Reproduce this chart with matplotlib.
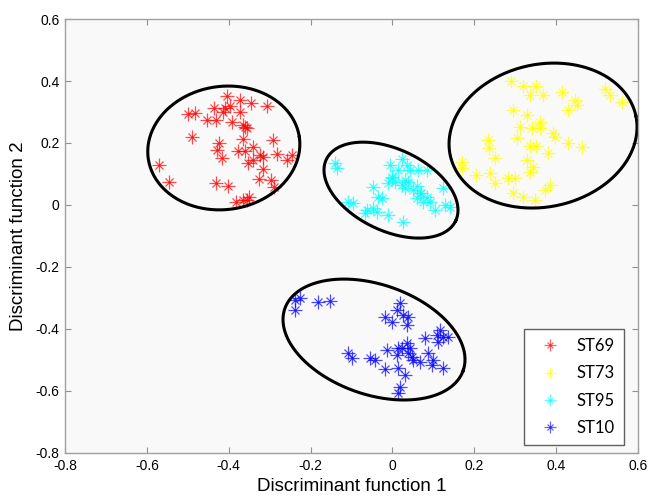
import numpy as np
import matplotlib
matplotlib.use("Agg")
import matplotlib.pyplot as plt
from matplotlib.legend_handler import HandlerTuple

# ---- data ----
st69_x = [-0.403, -0.372, -0.346, -0.307, -0.436, -0.409, -0.397, -0.415, -0.372, -0.499,
          -0.482, -0.454, -0.431, -0.393, -0.360, -0.356, -0.365, -0.490, -0.364, -0.291,
          -0.423, -0.429, -0.377, -0.360, -0.340, -0.417, -0.324, -0.316, -0.283, -0.246,
          -0.258, -0.352, -0.340, -0.570, -0.317, -0.545, -0.431, -0.401, -0.326, -0.297,
          -0.289, -0.381, -0.364, -0.350, -0.356]
st69_y = [0.352, 0.339, 0.328, 0.319, 0.312, 0.312, 0.319, 0.301, 0.299, 0.294,
          0.296, 0.274, 0.274, 0.269, 0.253, 0.247, 0.258, 0.218, 0.212, 0.210,
          0.199, 0.177, 0.175, 0.175, 0.188, 0.151, 0.161, 0.156, 0.165, 0.161,
          0.145, 0.135, 0.145, 0.129, 0.115, 0.073, 0.070, 0.062, 0.084, 0.081,
          0.057, 0.011, 0.016, 0.027, 0.016]

st73_x = [0.289, 0.320, 0.352, 0.336, 0.369, 0.414, 0.446, 0.450, 0.430, 0.519,
          0.532, 0.560, 0.294, 0.328, 0.312, 0.361, 0.361, 0.340, 0.393, 0.397,
          0.304, 0.234, 0.237, 0.336, 0.352, 0.430, 0.462, 0.381, 0.251, 0.328,
          0.344, 0.336, 0.169, 0.169, 0.204, 0.238, 0.251, 0.283, 0.299, 0.295,
          0.320, 0.348, 0.373, 0.385]
st73_y = [0.401, 0.384, 0.384, 0.355, 0.355, 0.365, 0.339, 0.323, 0.306, 0.373,
          0.355, 0.333, 0.306, 0.290, 0.253, 0.269, 0.247, 0.247, 0.231, 0.220,
          0.215, 0.210, 0.183, 0.190, 0.190, 0.199, 0.188, 0.167, 0.151, 0.145,
          0.124, 0.107, 0.140, 0.118, 0.097, 0.102, 0.070, 0.086, 0.086, 0.038,
          0.027, 0.016, 0.048, 0.065]

st95_x = [-0.140, -0.136, -0.048, -0.035, -0.026, -0.006, 0.023, 0.035, 0.043, 0.014,
          -0.002, -0.010, 0.006, 0.023, 0.039, 0.063, 0.084, 0.051, 0.067, 0.084,
          0.075, 0.092, 0.104, 0.124, 0.128, 0.141, -0.108, -0.096, -0.063, -0.047,
          -0.038, -0.067, -0.010, 0.026, 0.031, 0.059, 0.000, 0.030, 0.070, 0.060]
st95_y = [0.135, 0.118, 0.059, 0.027, 0.022, 0.129, 0.148, 0.129, 0.113, 0.113,
          0.086, 0.070, 0.075, 0.065, 0.075, 0.113, 0.113, 0.048, 0.038, 0.027,
          0.011, 0.011, -0.016, 0.054, 0.000, -0.005, 0.011, 0.005, -0.016, -0.011,
          -0.022, -0.027, -0.032, -0.054, 0.054, 0.022, 0.090, 0.080, 0.040, 0.060]

st10_x = [-0.238, -0.226, -0.238, -0.181, -0.153, 0.018, 0.010, 0.027, 0.039, -0.018,
          -0.002, 0.035, -0.108, -0.100, -0.055, -0.043, -0.014, 0.014, 0.035, 0.043,
          0.039, 0.047, 0.051, 0.010, -0.018, 0.014, 0.031, 0.018, 0.014, 0.080,
          0.108, 0.116, 0.124, 0.136, 0.112, 0.088, 0.100, 0.124, 0.067, 0.096, 0.023]
st10_y = [-0.306, -0.301, -0.339, -0.312, -0.309, -0.317, -0.339, -0.355, -0.360, -0.360,
          -0.376, -0.387, -0.478, -0.495, -0.495, -0.500, -0.468, -0.462, -0.446, -0.462,
          -0.478, -0.489, -0.500, -0.484, -0.530, -0.527, -0.548, -0.586, -0.607, -0.430,
          -0.419, -0.403, -0.425, -0.425, -0.441, -0.478, -0.500, -0.527, -0.505, -0.516, -0.462]

labels = ["ST69", "ST73", "ST95", "ST10"]
colors = ["#ff0000", "#ffff00", "#00ffff", "#0000ff"]

# ellipse centres (data units), semi-axes (display px) and tilt (deg, display)
ell_cx = [-0.412, 0.368, -0.0035, -0.045]
ell_cy = [0.184, 0.224, 0.048, -0.434]
ell_a = [76.3, 94.9, 71.6, 94.4]
ell_b = [61.6, 71.3, 40.8, 55.0]
ell_ang = [8.0, 12.0, -25.4, -19.1]

# ---- figure ----
W, H, DPI = 660, 497, 100
fig = plt.figure(figsize=(W / DPI, H / DPI), dpi=DPI, facecolor="white")
L, R, B, T = 65 / W, 638 / W, 1 - 453 / H, 1 - 19 / H
ax = fig.add_axes([L, B, R - L, T - B])
ax.set_facecolor("#f9f9f9")

xlim = (-0.8, 0.6)
ylim = (-0.8, 0.6)
ax.set_xlim(*xlim)
ax.set_ylim(*ylim)

sx = W * (R - L) / (xlim[1] - xlim[0])
sy = H * (T - B) / (ylim[1] - ylim[0])

series = [(st69_x, st69_y), (st73_x, st73_y), (st95_x, st95_y), (st10_x, st10_y)]
for (xs, ys), lab, c in zip(series, labels, colors):
    ax.plot(xs, ys, linestyle="none", marker="+", markersize=10, markeredgewidth=0.9,
            color=c, alpha=0.7)
    ax.plot(xs, ys, linestyle="none", marker="x", markersize=5.5, markeredgewidth=0.9,
            color=c, alpha=0.7)

# legend proxies (smaller markers, as in the reference legend)
handles = []
for c in colors:
    p1, = ax.plot([], [], linestyle="none", marker="+", markersize=8, markeredgewidth=0.9,
                  color=c, alpha=0.6)
    p2, = ax.plot([], [], linestyle="none", marker="x", markersize=4.5, markeredgewidth=0.9,
                  color=c, alpha=0.6)
    handles.append((p1, p2))

t = np.linspace(0, 2 * np.pi, 400)
for cx, cy, a, b, ang in zip(ell_cx, ell_cy, ell_a, ell_b, ell_ang):
    th = np.deg2rad(ang)
    dx = a * np.cos(t) * np.cos(th) - b * np.sin(t) * np.sin(th)
    dy = a * np.cos(t) * np.sin(th) + b * np.sin(t) * np.cos(th)
    ax.plot(cx + dx / sx, cy + dy / sy, color="black", linewidth=2.2)

ax.set_xticks(np.arange(-0.8, 0.61, 0.2))
ax.set_yticks(np.arange(-0.8, 0.61, 0.2))
ax.set_xticklabels(["-0.8", "-0.6", "-0.4", "-0.2", "0", "0.2", "0.4", "0.6"])
ax.set_yticklabels(["-0.8", "-0.6", "-0.4", "-0.2", "0", "0.2", "0.4", "0.6"])
ax.tick_params(direction="in", length=4, width=0.8, color="#909090",
               top=True, right=True, labelsize=10, pad=4)
for lab in ax.get_xticklabels() + ax.get_yticklabels():
    lab.set_family("Liberation Sans")
for sp in ax.spines.values():
    sp.set_color("#a0a0a0")
    sp.set_linewidth(1.0)

ax.set_xlabel("Discriminant function 1", fontsize=13.5, family="Liberation Sans", labelpad=4)
ax.set_ylabel("Discriminant function 2", fontsize=13.5, family="Liberation Sans", labelpad=6)

leg = ax.legend(handles, labels, handler_map={tuple: HandlerTuple(ndivide=1, pad=0)},
                loc="lower right", bbox_to_anchor=(0.976, 0.018), fancybox=False,
                frameon=True, prop={"family": "Lato", "size": 12}, handlelength=2.0,
                borderpad=0.55, labelspacing=0.68, handletextpad=0.6, borderaxespad=0)
leg.get_frame().set_edgecolor("#606060")
leg.get_frame().set_linewidth(1.0)
leg.get_frame().set_facecolor("white")
leg.get_frame().set_alpha(1.0)

fig.savefig("out.png", dpi=DPI, facecolor="white")
